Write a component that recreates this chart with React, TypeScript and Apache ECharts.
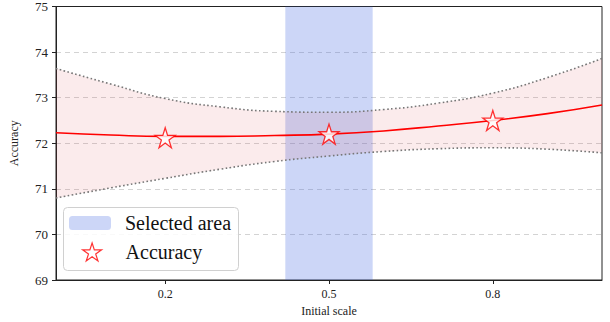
import React, { useEffect, useRef } from "react";
import * as echarts from "echarts";

const xs = [0, 0.1, 0.2, 0.3, 0.4, 0.5, 0.6, 0.7, 0.8, 0.9, 1.0];
const meanVals = [72.23, 72.18, 72.15, 72.15, 72.17, 72.2, 72.27, 72.38, 72.5, 72.65, 72.84];
const upperVals = [73.64, 73.3, 72.98, 72.8, 72.7, 72.68, 72.74, 72.88, 73.1, 73.44, 73.86];
const lowerVals = [70.8, 71.02, 71.23, 71.43, 71.6, 71.72, 71.82, 71.88, 71.9, 71.87, 71.79];
const scaleX = [0.2, 0.5, 0.8];
const accuracy = [72.12, 72.2, 72.5];
const selectedRange = [0.42, 0.58];
const xTicks = [0.2, 0.5, 0.8];

const STAR =
  "path://M50,0 L61.8,36.2 L100,36.2 L69.1,58.6 L80.9,95.1 L50,72.6 L19.1,95.1 L30.9,58.6 L0,36.2 L38.2,36.2 Z";
const FONT = "'Liberation Serif', 'Times New Roman', serif";

export default function App() {
  const ref = useRef<HTMLDivElement>(null);
  useEffect(() => {
    const chart = echarts.init(ref.current!, null, { renderer: "svg" });
    chart.setOption({
      animation: false,
      textStyle: { fontFamily: FONT },
      grid: {
        left: 53,
        right: 8,
        top: 6,
        bottom: 42,
        show: true,
        borderColor: "#222",
        borderWidth: 1,
        backgroundColor: "transparent",
      },
      xAxis: [
        {
          type: "value",
          min: 0,
          max: 1,
          name: "Initial scale",
          nameLocation: "middle",
          nameGap: 24,
          nameTextStyle: { fontFamily: FONT, fontSize: 12, color: "#222" },
          axisLine: { show: true, lineStyle: { color: "#222" } },
          axisTick: { show: true, inside: false, length: 4, customValues: xTicks, lineStyle: { color: "#222" } },
          axisLabel: { customValues: xTicks, fontFamily: FONT, fontSize: 12, color: "#222", margin: 8 },
          splitLine: { show: false },
        },
        {
          type: "category",
          data: xs.map(String),
          boundaryGap: false,
          show: false,
          position: "bottom",
        },
      ],
      yAxis: {
        type: "value",
        min: 69,
        max: 75,
        interval: 1,
        name: "Accuracy",
        nameLocation: "middle",
        nameGap: 36,
        nameTextStyle: { fontFamily: FONT, fontSize: 12, color: "#222" },
        axisLine: { show: true, lineStyle: { color: "#222" } },
        axisTick: { show: true, inside: false, length: 4, lineStyle: { color: "#222" } },
        axisLabel: { fontFamily: FONT, fontSize: 13, color: "#222", margin: 8 },
        splitLine: {
          show: true,
          showMinLine: false,
          showMaxLine: false,
          lineStyle: { type: [5, 4], color: "#c8c8c8", width: 0.8 },
        },
      },
      legend: [
        {
          data: ["Selected area"],
          left: 69,
          top: 212,
          padding: 0,
          itemWidth: 42,
          itemHeight: 14,
          itemGap: 0,
          z: 7,
          textStyle: { fontFamily: FONT, fontSize: 20, color: "#111", padding: [0, 0, 0, 9], lineHeight: 22 },
          selectedMode: false,
        },
        {
          data: [{ name: "Accuracy", icon: STAR, itemStyle: { color: "#ffffff", borderColor: "#ff0000", borderWidth: 1.2 } }],
          left: 82,
          top: 241,
          padding: 0,
          itemWidth: 19,
          itemHeight: 19,
          z: 7,
          textStyle: { fontFamily: FONT, fontSize: 20, color: "#111", padding: [0, 0, 0, 19], lineHeight: 22 },
          selectedMode: false,
        },
      ],
      graphic: [
        {
          type: "rect",
          left: 63,
          top: 207,
          shape: { width: 175, height: 63, r: 4 },
          style: { fill: "rgba(255,255,255,0.85)", stroke: "#d0d0d0", lineWidth: 1 },
          z: 6,
        },
      ],
      series: [
        {
          type: "line",
          name: "bandBase",
          xAxisIndex: 1,
          stack: "band",
          smooth: true,
          symbol: "none",
          lineStyle: { width: 0, opacity: 0 },
          data: lowerVals,
          silent: true,
        },
        {
          type: "line",
          name: "band",
          xAxisIndex: 1,
          stack: "band",
          smooth: true,
          symbol: "none",
          lineStyle: { width: 0, opacity: 0 },
          areaStyle: { color: "rgba(214,50,60,0.14)" },
          data: upperVals.map((u, i) => +(u - lowerVals[i]).toFixed(3)),
          silent: true,
        },
        {
          type: "custom",
          name: "Selected area",
          itemStyle: { color: "rgba(65,105,225,0.27)" },
          data: [[selectedRange[0], selectedRange[1]]],
          renderItem: (params: any, api: any) => {
            const p0 = api.coord([api.value(0), 75]);
            const p1 = api.coord([api.value(1), 69]);
            return {
              type: "rect",
              shape: { x: p0[0], y: p0[1], width: p1[0] - p0[0], height: p1[1] - p0[1] },
              style: { fill: "rgba(65,105,225,0.27)" },
            };
          },
          encode: { x: [0, 1] },
        },
        {
          type: "line",
          name: "upper",
          smooth: true,
          symbol: "none",
          lineStyle: { color: "#777", width: 1.6, type: [1.6, 2.4] },
          data: xs.map((x, i) => [x, upperVals[i]]),
        },
        {
          type: "line",
          name: "lower",
          smooth: true,
          symbol: "none",
          lineStyle: { color: "#777", width: 1.6, type: [1.6, 2.4] },
          data: xs.map((x, i) => [x, lowerVals[i]]),
        },
        {
          type: "line",
          name: "mean",
          smooth: true,
          symbol: "none",
          lineStyle: { color: "#ff0000", width: 1.6 },
          data: xs.map((x, i) => [x, meanVals[i]]),
        },
        {
          type: "scatter",
          name: "Accuracy",
          symbol: STAR,
          symbolSize: 20,
          itemStyle: { color: "#ffffff", borderColor: "#ff0000", borderWidth: 1.3 },
          data: scaleX.map((x, i) => [x, accuracy[i]]),
          z: 4,
        },
      ],
    });
    return () => chart.dispose();
  }, []);
  return <div ref={ref} style={{ width: 610, height: 322, position: "absolute", left: 0, top: 0 }} />;
}
